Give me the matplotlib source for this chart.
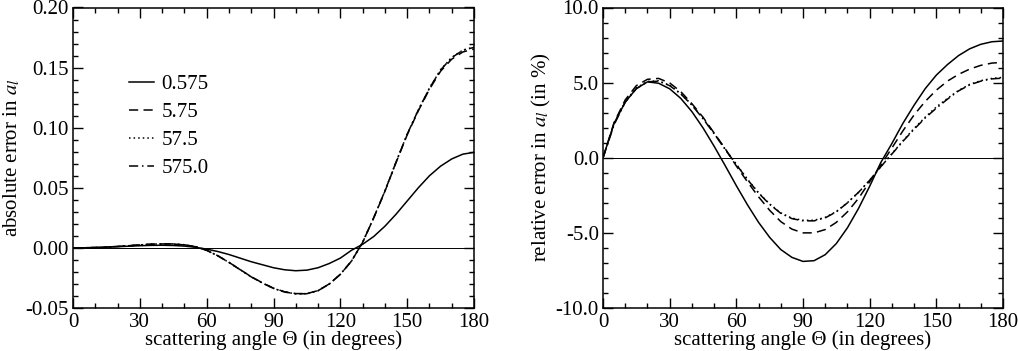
import matplotlib
matplotlib.use("Agg")
import matplotlib.pyplot as plt
from matplotlib.ticker import MultipleLocator, FormatStrFormatter

plt.rcParams['font.family'] = ['Liberation Serif', 'DejaVu Serif']
plt.rcParams['mathtext.fontset'] = 'stix'
plt.rcParams['axes.unicode_minus'] = False

# scattering angle (degrees)
theta = [0, 5, 10, 15, 20, 25, 30, 35, 40, 45, 50, 55, 60, 65, 70, 75, 80, 85, 90,
         95, 100, 105, 110, 115, 120, 125, 130, 135, 140, 145, 150, 155, 160, 165,
         170, 175, 180]

labels = ["0.575", "5.75", "57.5", "575.0"]

# absolute error in a_1
abs_0575 = [0, 0.0001, 0.0003, 0.0006, 0.001, 0.0014, 0.0018, 0.0021, 0.0022, 0.0020,
            0.0015, 0.0005, -0.0010, -0.0030, -0.0055, -0.0085, -0.0115, -0.0140, -0.0165,
            -0.0182, -0.0190, -0.0185, -0.0165, -0.0130, -0.0085, -0.0020, 0.0030, 0.0095,
            0.0180, 0.0280, 0.0390, 0.0500, 0.0600, 0.0680, 0.0740, 0.0780, 0.0795]
abs_575 = [0, 0.0001, 0.0003, 0.0007, 0.0012, 0.0018, 0.0025, 0.0030, 0.0033, 0.0032,
           0.0025, 0.0010, -0.0020, -0.0065, -0.0120, -0.0180, -0.0240, -0.0290, -0.0335,
           -0.0365, -0.0380, -0.0380, -0.0355, -0.0300, -0.0220, -0.0110, 0.0045, 0.0250,
           0.0470, 0.0710, 0.0940, 0.1140, 0.1320, 0.1470, 0.1570, 0.1630, 0.1655]
abs_5750 = [0, 0.0001, 0.0003, 0.0007, 0.0012, 0.0018, 0.0025, 0.0031, 0.0034, 0.0033,
            0.0026, 0.0010, -0.0020, -0.0066, -0.0121, -0.0181, -0.0241, -0.0292, -0.0337,
            -0.0367, -0.0382, -0.0381, -0.0356, -0.0301, -0.0220, -0.0110, 0.0046, 0.0252,
            0.0473, 0.0714, 0.0946, 0.1148, 0.1330, 0.1482, 0.1585, 0.1646, 0.1670]
abs_57500 = [0, 0.0001, 0.0003, 0.0007, 0.0012, 0.0018, 0.0025, 0.0031, 0.0034, 0.0033,
             0.0026, 0.0010, -0.0020, -0.0066, -0.0121, -0.0181, -0.0241, -0.0292, -0.0337,
             -0.0367, -0.0382, -0.0381, -0.0356, -0.0301, -0.0220, -0.0110, 0.0046, 0.0252,
             0.0473, 0.0713, 0.0945, 0.1147, 0.1328, 0.1480, 0.1583, 0.1644, 0.1668]

# relative error in a_1 (in %)
rel_0575 = [0, 2.3, 3.7, 4.6, 5.05, 4.96, 4.59, 3.95, 3.07, 1.99, 0.77, -0.53, -1.86,
            -3.13, -4.30, -5.30, -6.11, -6.63, -6.90, -6.85, -6.45, -5.71, -4.66, -3.37,
            -1.90, -0.32, 0.95, 2.30, 3.50, 4.60, 5.50, 6.20, 6.80, 7.25, 7.55, 7.72, 7.77]
rel_575 = [0, 2.35, 3.85, 4.8, 5.22, 5.28, 4.98, 4.4, 3.6, 2.7, 1.65, 0.6, -0.55,
           -1.6, -2.6, -3.5, -4.25, -4.75, -5.0, -5.0, -4.78, -4.3, -3.6, -2.7, -1.6,
           -0.5, 0.65, 1.8, 2.85, 3.75, 4.5, 5.1, 5.55, 5.9, 6.15, 6.3, 6.35]
rel_5750 = [0, 2.25, 3.75, 4.65, 5.08, 5.12, 4.82, 4.27, 3.52, 2.62, 1.62, 0.57, -0.43,
            -1.43, -2.33, -3.08, -3.67, -4.02, -4.16, -4.16, -3.97, -3.58, -2.99, -2.3,
            -1.5, -0.6, 0.27, 1.13, 1.95, 2.7, 3.38, 3.95, 4.48, 4.88, 5.13, 5.28, 5.35]
rel_57500 = [0, 2.2, 3.7, 4.6, 5.05, 5.1, 4.8, 4.25, 3.5, 2.6, 1.6, 0.55, -0.45,
             -1.45, -2.35, -3.1, -3.7, -4.05, -4.2, -4.2, -4.0, -3.6, -3.0, -2.3,
             -1.5, -0.6, 0.25, 1.1, 1.9, 2.65, 3.3, 3.9, 4.45, 4.85, 5.1, 5.25, 5.3]

styles = [dict(linestyle='-'),
          dict(linestyle=(0, (6, 3.5))),
          dict(linestyle=(0, (1, 2))),
          dict(linestyle=(0, (6, 2.5, 1, 2.5)))]

fig = plt.figure(figsize=(10.18, 3.51), dpi=100)
axL = fig.add_axes([73/1018, 43/351, 401/1018, 300.5/351])
axR = fig.add_axes([603/1018, 43/351, 400/1018, 300.5/351])

FS = 15
for ax in (axL, axR):
    ax.axhline(0, color='black', lw=0.7, zorder=1)
    ax.set_xlim(0, 180)
    ax.xaxis.set_major_locator(MultipleLocator(30))
    ax.xaxis.set_minor_locator(MultipleLocator(10))
    ax.tick_params(which='both', direction='in', top=True, right=True,
                   labelsize=FS, width=1.0)
    ax.tick_params(axis='y', pad=3)
    ax.tick_params(axis='x', pad=3.5)
    ax.tick_params(which='major', length=7)
    ax.tick_params(which='minor', length=3.5)
    for s in ax.spines.values():
        s.set_linewidth(1.1)
    ax.set_xlabel("scattering angle \u0398 (in degrees)", fontsize=FS, labelpad=-1)

for y, lab, st in zip([abs_0575, abs_575, abs_5750, abs_57500], labels, styles):
    axL.plot(theta, y, color='black', lw=1.1, label=lab, **st)
axL.set_ylim(-0.05, 0.20)
axL.yaxis.set_major_locator(MultipleLocator(0.05))
axL.yaxis.set_minor_locator(MultipleLocator(0.01))
axL.yaxis.set_major_formatter(FormatStrFormatter('%.2f'))
axL.set_ylabel(r"absolute error in $a_{\mathit{l}}$", fontsize=FS, labelpad=2)
axL.legend(loc='upper left', bbox_to_anchor=(0.14, 0.776), frameon=False,
           fontsize=FS, handlelength=1.2, handletextpad=0.35, labelspacing=0.4,
           borderpad=0, borderaxespad=0)

for y, lab, st in zip([rel_0575, rel_575, rel_5750, rel_57500], labels, styles):
    axR.plot(theta, y, color='black', lw=1.1, label=lab, **st)
axR.set_ylim(-10, 10)
axR.yaxis.set_major_locator(MultipleLocator(5))
axR.yaxis.set_minor_locator(MultipleLocator(1))
axR.yaxis.set_major_formatter(FormatStrFormatter('%.1f'))
axR.set_ylabel(r"relative error in $a_{\mathit{l}}$ (in %)", fontsize=FS, labelpad=2)

fig.savefig("out.png", dpi=100)
